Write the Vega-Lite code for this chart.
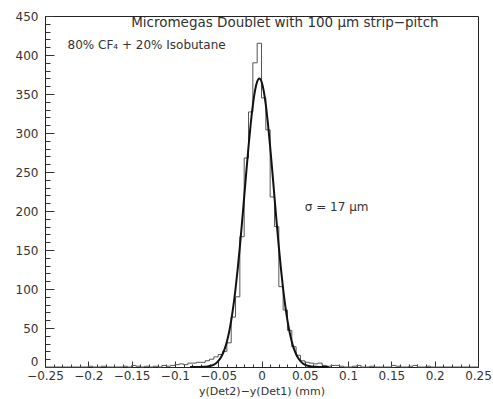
{
  "$schema": "https://vega.github.io/schema/vega-lite/v6.json",
  "width": 433,
  "height": 351,
  "autosize": {"type": "none"},
  "padding": {"left": 45, "top": 16, "right": 15, "bottom": 32},
  "background": "white",
  "config": {
    "view": {"stroke": "#222", "strokeWidth": 1},
    "font": "DejaVu Sans"
  },
  "datasets": {
    "hist": [
      {"x": -0.25, "n": 0}, {"x": -0.245, "n": 0}, {"x": -0.24, "n": 0}, {"x": -0.235, "n": 0}, {"x": -0.23, "n": 0},
      {"x": -0.225, "n": 0}, {"x": -0.22, "n": 0}, {"x": -0.215, "n": 0}, {"x": -0.21, "n": 0}, {"x": -0.205, "n": 0},
      {"x": -0.2, "n": 1}, {"x": -0.195, "n": 0}, {"x": -0.19, "n": 0}, {"x": -0.185, "n": 1}, {"x": -0.18, "n": 0},
      {"x": -0.175, "n": 0}, {"x": -0.17, "n": 0}, {"x": -0.165, "n": 0}, {"x": -0.16, "n": 1}, {"x": -0.155, "n": 0},
      {"x": -0.15, "n": 2}, {"x": -0.145, "n": 1}, {"x": -0.14, "n": 0}, {"x": -0.135, "n": 1}, {"x": -0.13, "n": 0},
      {"x": -0.125, "n": 1}, {"x": -0.12, "n": 0}, {"x": -0.115, "n": 2}, {"x": -0.11, "n": 1}, {"x": -0.105, "n": 2},
      {"x": -0.1, "n": 3}, {"x": -0.095, "n": 4}, {"x": -0.09, "n": 3}, {"x": -0.085, "n": 5}, {"x": -0.08, "n": 5},
      {"x": -0.075, "n": 6}, {"x": -0.07, "n": 6}, {"x": -0.065, "n": 8}, {"x": -0.06, "n": 10}, {"x": -0.055, "n": 13},
      {"x": -0.05, "n": 16}, {"x": -0.045, "n": 20}, {"x": -0.04, "n": 31}, {"x": -0.035, "n": 64}, {"x": -0.03, "n": 90},
      {"x": -0.025, "n": 167}, {"x": -0.02, "n": 268}, {"x": -0.015, "n": 327}, {"x": -0.01, "n": 390}, {"x": -0.005, "n": 415},
      {"x": 0, "n": 345}, {"x": 0.005, "n": 304}, {"x": 0.01, "n": 218}, {"x": 0.015, "n": 180}, {"x": 0.02, "n": 103},
      {"x": 0.025, "n": 73}, {"x": 0.03, "n": 47}, {"x": 0.035, "n": 26}, {"x": 0.04, "n": 15}, {"x": 0.045, "n": 8},
      {"x": 0.05, "n": 6}, {"x": 0.055, "n": 5}, {"x": 0.06, "n": 4}, {"x": 0.065, "n": 5}, {"x": 0.07, "n": 2},
      {"x": 0.075, "n": 1}, {"x": 0.08, "n": 2}, {"x": 0.085, "n": 2}, {"x": 0.09, "n": 1}, {"x": 0.095, "n": 0},
      {"x": 0.1, "n": 0}, {"x": 0.105, "n": 1}, {"x": 0.11, "n": 2}, {"x": 0.115, "n": 0}, {"x": 0.12, "n": 0},
      {"x": 0.125, "n": 1}, {"x": 0.13, "n": 0}, {"x": 0.135, "n": 0}, {"x": 0.14, "n": 0}, {"x": 0.145, "n": 0},
      {"x": 0.15, "n": 2}, {"x": 0.155, "n": 1}, {"x": 0.16, "n": 0}, {"x": 0.165, "n": 0}, {"x": 0.17, "n": 1},
      {"x": 0.175, "n": 2}, {"x": 0.18, "n": 0}, {"x": 0.185, "n": 0}, {"x": 0.19, "n": 1}, {"x": 0.195, "n": 0},
      {"x": 0.2, "n": 0}, {"x": 0.205, "n": 0}, {"x": 0.21, "n": 0}, {"x": 0.215, "n": 0}, {"x": 0.22, "n": 0},
      {"x": 0.225, "n": 0}, {"x": 0.23, "n": 0}, {"x": 0.235, "n": 0}, {"x": 0.24, "n": 0}, {"x": 0.245, "n": 0},
      {"x": 0.25, "n": 0}
    ],
    "fit": [
      {"x": -0.0825, "g": 0}, {"x": -0.0775, "g": 0.02}, {"x": -0.0725, "g": 0.08}, {"x": -0.0675, "g": 0.25},
      {"x": -0.065, "g": 0.43}, {"x": -0.0625, "g": 0.73}, {"x": -0.06, "g": 1.21}, {"x": -0.0575, "g": 1.97},
      {"x": -0.055, "g": 3.14}, {"x": -0.0525, "g": 4.89}, {"x": -0.05, "g": 7.46}, {"x": -0.0475, "g": 11.1},
      {"x": -0.045, "g": 16.3}, {"x": -0.0425, "g": 23.2}, {"x": -0.04, "g": 32.5}, {"x": -0.0375, "g": 44.4},
      {"x": -0.035, "g": 59.5}, {"x": -0.0325, "g": 78.0}, {"x": -0.03, "g": 100.0}, {"x": -0.0275, "g": 125.5},
      {"x": -0.025, "g": 154.1}, {"x": -0.0225, "g": 185.2}, {"x": -0.02, "g": 217.8}, {"x": -0.0175, "g": 250.7},
      {"x": -0.015, "g": 282.4}, {"x": -0.0125, "g": 311.2}, {"x": -0.01, "g": 335.7}, {"x": -0.0075, "g": 354.3},
      {"x": -0.005, "g": 366.0}, {"x": -0.0025, "g": 370.0}, {"x": 0, "g": 366.0}, {"x": 0.0025, "g": 354.3},
      {"x": 0.005, "g": 335.7}, {"x": 0.0075, "g": 311.2}, {"x": 0.01, "g": 282.4}, {"x": 0.0125, "g": 250.7},
      {"x": 0.015, "g": 217.8}, {"x": 0.0175, "g": 185.2}, {"x": 0.02, "g": 154.1}, {"x": 0.0225, "g": 125.5},
      {"x": 0.025, "g": 100.0}, {"x": 0.0275, "g": 78.0}, {"x": 0.03, "g": 59.5}, {"x": 0.0325, "g": 44.4},
      {"x": 0.035, "g": 32.5}, {"x": 0.0375, "g": 23.2}, {"x": 0.04, "g": 16.3}, {"x": 0.0425, "g": 11.1},
      {"x": 0.045, "g": 7.46}, {"x": 0.0475, "g": 4.89}, {"x": 0.05, "g": 3.14}, {"x": 0.0525, "g": 1.97},
      {"x": 0.055, "g": 1.21}, {"x": 0.0575, "g": 0.73}, {"x": 0.06, "g": 0.43}, {"x": 0.0625, "g": 0.25},
      {"x": 0.0675, "g": 0.08}, {"x": 0.0725, "g": 0.02}, {"x": 0.0775, "g": 0}
    ],
    "notes": [
      {"label": "Micromegas Doublet with 100 \u03bcm strip\u2212pitch", "px": 0.027, "py": 441, "anchor": "center"},
      {"label": "80% CF\u2084 + 20% Isobutane", "px": -0.224, "py": 413, "anchor": "left"},
      {"label": "\u03c3 = 17 \u03bcm", "px": 0.05, "py": 205, "anchor": "left"}
    ]
  },
  "layer": [
    {
      "data": {"name": "hist"},
      "mark": {"type": "line", "interpolate": "step-after", "color": "#555", "strokeWidth": 1},
      "encoding": {
        "x": {
          "field": "x", "type": "quantitative",
          "scale": {"domain": [-0.25, 0.25], "nice": false, "zero": false},
          "title": "y(Det2)\u2212y(Det1) (mm)",
          "axis": {
            "values": [-0.25,-0.24,-0.23,-0.22,-0.21,-0.2,-0.19,-0.18,-0.17,-0.16,-0.15,-0.14,-0.13,-0.12,-0.11,-0.1,-0.09,-0.08,-0.07,-0.06,-0.05,-0.04,-0.03,-0.02,-0.01,0,0.01,0.02,0.03,0.04,0.05,0.06,0.07,0.08,0.09,0.1,0.11,0.12,0.13,0.14,0.15,0.16,0.17,0.18,0.19,0.2,0.21,0.22,0.23,0.24,0.25],
            "tickCount": 200,
            "labelExpr": "abs(round(datum.value*1000)) % 50 === 0 ? format(datum.value, '~g') : ''",
            "grid": false,
            "domainColor": "#222",
            "tickColor": "#333",
            "tickSize": {"condition": {"test": "abs(round(datum.value*1000)) % 50 === 0", "value": -6}, "value": -3},
            "labelPadding": 9,
            "labelFontSize": 12,
            "labelColor": "#333",
            "labelFlush": false,
            "labelOverlap": false,
            "titleFontSize": 11,
            "titleFontWeight": "normal",
            "titleColor": "#333",
            "titlePadding": 1
          }
        },
        "y": {
          "field": "n", "type": "quantitative",
          "scale": {"domain": [0, 450], "nice": false},
          "title": null,
          "axis": {
            "values": [0,10,20,30,40,50,60,70,80,90,100,110,120,130,140,150,160,170,180,190,200,210,220,230,240,250,260,270,280,290,300,310,320,330,340,350,360,370,380,390,400,410,420,430,440,450],
            "tickCount": 200,
            "labelExpr": "datum.value % 50 === 0 ? datum.label : ''",
            "grid": false,
            "domainColor": "#222",
            "tickColor": "#333",
            "tickSize": {"condition": {"test": "datum.value % 50 === 0", "value": -9}, "value": -5},
            "labelPadding": 16,
            "labelOffset": {"condition": {"test": "datum.value === 0", "value": -6}, "value": 0},
            "labelFontSize": 12,
            "labelColor": "#333",
            "labelFlush": false,
            "labelOverlap": false
          }
        }
      }
    },
    {
      "data": {"name": "fit"},
      "mark": {"type": "line", "interpolate": "monotone", "color": "#111", "strokeWidth": 2},
      "encoding": {
        "x": {"field": "x", "type": "quantitative"},
        "y": {"field": "g", "type": "quantitative"}
      }
    },
    {
      "data": {"name": "notes"},
      "transform": [{"filter": "datum.anchor === 'center'"}],
      "mark": {"type": "text", "align": "center", "baseline": "middle", "fontSize": 13.5, "color": "#333"},
      "encoding": {
        "x": {"field": "px", "type": "quantitative"},
        "y": {"field": "py", "type": "quantitative"},
        "text": {"field": "label"}
      }
    },
    {
      "data": {"name": "notes"},
      "transform": [{"filter": "datum.anchor === 'left'"}],
      "mark": {"type": "text", "align": "left", "baseline": "middle", "fontSize": 12, "color": "#333"},
      "encoding": {
        "x": {"field": "px", "type": "quantitative"},
        "y": {"field": "py", "type": "quantitative"},
        "text": {"field": "label"}
      }
    }
  ]
}
